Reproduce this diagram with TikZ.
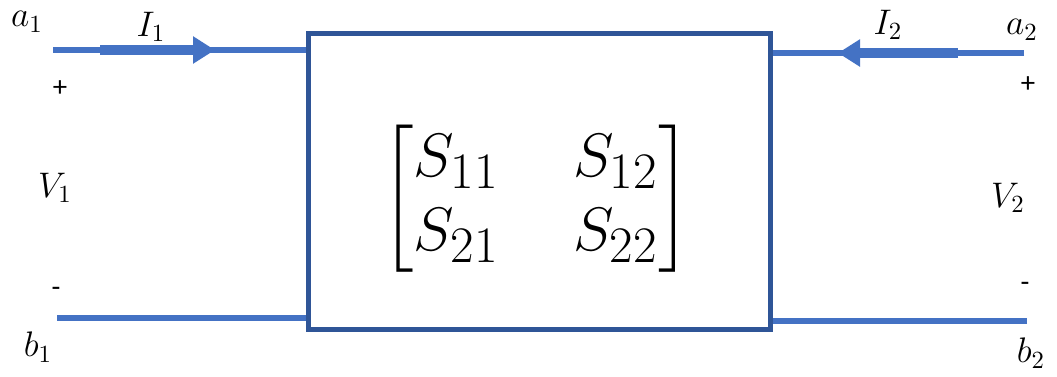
\documentclass[tikz,border=0pt]{standalone}
\usepackage{amsmath}
\usepackage{fontspec}
\newfontfamily\signfont{Carlito}
\usetikzlibrary{arrows.meta,positioning}
\definecolor{wirecol}{RGB}{68,114,196}
\definecolor{boxcol}{RGB}{47,85,151}
\tikzset{
  % port wire
  wire/.style={draw=wirecol, line width=4.5pt},
  % current arrow on a wire
  curarrow/.style={draw=wirecol, line width=8pt, -{Triangle[length=16.5pt,width=19.5pt]}},
  % two-port box
  twoport/.style={rectangle, draw=boxcol, line width=3.75pt, minimum width=346.5pt,
                  minimum height=222pt, inner sep=0pt},
  % port label
  plabel/.style={font=\Large, scale=1.85, inner sep=0pt},
  % polarity sign
  polsign/.style={font=\signfont\Large, scale=1.5, inner sep=0pt},
  % S matrix
  smatrix/.style={font=\Huge, scale=1.85, inner sep=0pt},
}

\begin{document}
\begin{tikzpicture}[x=0.75pt, y=-0.75pt]
  \useasboundingbox (0,0) rectangle (1057,376);

  % ── two-port box ──
  \node[twoport] (box) at (539,181.5) {};
  \node[smatrix] (smat) at (536,199)
    {\setlength{\arraycolsep}{15pt}$\begin{bmatrix} S_{11} & S_{12}\\ S_{21} & S_{22}\end{bmatrix}$};

  % ── port 1 ──
  \coordinate (a1w) at (53,50);
  \coordinate (b1w) at (57,318);
  \draw[wire] (a1w) -- (a1w -| box.west);
  \draw[wire] (b1w) -- (b1w -| box.west);
  \coordinate (i1s) at (100,50);
  \coordinate (i1t) at (215,50);
  \draw[curarrow] (i1s) -- (i1t);

  \node[plabel] (a1) at (27,22) {$a_1$};
  \node[plabel] (I1) at (151,27) {$I_1$};
  \node[polsign] (p1) at (60,89) {+};
  \node[plabel] (V1) at (55,188) {$V_1$};
  \node[polsign] (m1) at (56,292) {-};
  \node[plabel] (b1) at (38,347) {$b_1$};

  % ── port 2 ──
  \coordinate (a2w) at (1024,53);
  \coordinate (b2w) at (1027,321);
  \draw[wire] (a2w) -- (a2w -| box.east);
  \draw[wire] (b2w) -- (b2w -| box.east);
  \coordinate (i2s) at (958,53);
  \coordinate (i2t) at (838,53);
  \draw[curarrow] (i2s) -- (i2t);

  \node[plabel] (a2) at (1022,30) {$a_2$};
  \node[plabel] (I2) at (888,25) {$I_2$};
  \node[polsign] (p2) at (1028,85) {+};
  \node[plabel] (V2) at (1008,198) {$V_2$};
  \node[polsign] (m2) at (1025,287) {-};
  \node[plabel] (b2) at (1031,353) {$b_2$};

\end{tikzpicture}
\end{document}
